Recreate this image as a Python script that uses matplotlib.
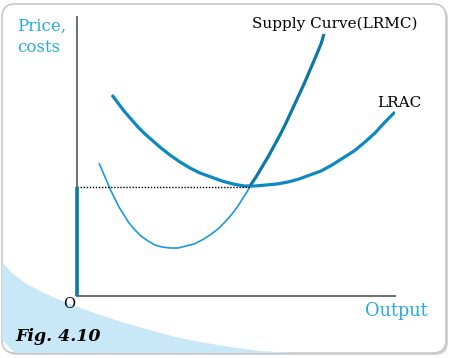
import matplotlib
matplotlib.use("Agg")
import matplotlib.pyplot as plt
from matplotlib.patches import FancyBboxPatch, Polygon

# data (x = output, y = cost; origin at O)
lrac_x = [35, 41, 47, 54, 61, 68, 76, 84, 93, 103, 113, 123, 134, 145, 156, 167, 178,
          189, 200, 211, 222, 233, 244, 255, 266, 277, 288, 298, 308, 318]
lrac_y = [201, 193, 185, 177, 169, 162, 155, 148, 141, 134, 128, 123, 119, 115, 112, 110, 110,
          111, 112, 114, 117, 121, 125, 131, 138, 145, 154, 163, 174, 184]

lrmc_low_x = [22, 25, 28, 31, 34, 38, 42, 47, 52, 58, 64, 71, 78, 85, 93, 101, 109, 117,
              125, 133, 141, 148, 155, 161, 166, 170, 173]
lrmc_low_y = [133, 126, 119, 112, 105, 97, 89, 81, 73, 66, 60, 55, 51, 49, 48, 48, 50, 52,
              56, 61, 67, 74, 82, 90, 98, 104, 110]

lrmc_up_x = [173, 179, 185, 191, 197, 203, 209, 215, 221, 227, 233, 239, 244, 247]
lrmc_up_y = [110, 119, 129, 139, 150, 161, 173, 186, 199, 212, 226, 240, 252, 262]

min_lrac_x = 173
min_lrac_y = 109

x_max, y_max = 318, 279

fig = plt.figure(figsize=(4.52, 3.58), dpi=100)

# background: frame and swoosh, drawn in pixel coordinates
bg = fig.add_axes([0, 0, 1, 1])
bg.set_xlim(0, 452)
bg.set_ylim(358, 0)
bg.axis("off")

shadow = FancyBboxPatch((4, 6), 444, 349, boxstyle="round,pad=0,rounding_size=13",
                        fc="#d4d4d4", ec="none", zorder=0)
bg.add_patch(shadow)
frame = FancyBboxPatch((2, 4), 444, 349, boxstyle="round,pad=0,rounding_size=13",
                       fc="white", ec="#c8c8c8", lw=1.2, zorder=1)
bg.add_patch(frame)

swoosh_x = [2, 12, 25, 40, 55, 75, 100, 125, 150, 175, 200, 230, 260, 295]
swoosh_y = [262, 273, 283, 291, 298, 306, 315, 323, 330, 337, 342, 347, 351, 353]
pts = list(zip(swoosh_x, swoosh_y)) + [(15, 353), (2, 340)]
sw = Polygon(pts, closed=True, fc="#c8e8f8", ec="none", zorder=2)
sw.set_clip_path(frame)
bg.add_patch(sw)

serif = "DejaVu Serif"
blue_txt = "#29abe2"
bg.text(17, 31, "Price,", color=blue_txt, family=serif, fontsize=12,
        va="baseline", ha="left", zorder=5)
bg.text(17, 52, "costs", color=blue_txt, family=serif, fontsize=12,
        va="baseline", ha="left", zorder=5)
bg.text(252, 28, "Supply Curve(LRMC)", color="black", family=serif, fontsize=11,
        va="baseline", ha="left", zorder=5)
bg.text(377, 107, "LRAC", color="black", family=serif, fontsize=11,
        va="baseline", ha="left", zorder=5)
bg.text(69, 308, "O", color="black", family=serif, fontsize=10.5,
        va="baseline", ha="center", zorder=5)
bg.text(365, 316, "Output", color=blue_txt, family=serif, fontsize=12.8,
        va="baseline", ha="left", zorder=5)
bg.text(15, 341, "Fig. 4.10", color="black", family=serif, fontsize=12.5,
        fontweight="bold", fontstyle="italic", va="baseline", ha="left", zorder=5)

# the chart itself
ax = fig.add_axes([77 / 452, (358 - 296) / 358, x_max / 452, y_max / 358])
ax.patch.set_alpha(0)
ax.set_xlim(0, x_max)
ax.set_ylim(0, y_max)
for s in ["top", "right"]:
    ax.spines[s].set_visible(False)
for s in ["left", "bottom"]:
    ax.spines[s].set_color("#6d6e71")
    ax.spines[s].set_linewidth(1.4)
ax.set_xticks([])
ax.set_yticks([])

ax.plot(lrmc_low_x, lrmc_low_y, color="#1b9ad6", lw=1.2, solid_capstyle="butt")
ax.plot(lrac_x, lrac_y, color="#0e88c2", lw=2.3, solid_capstyle="butt")
ax.plot(lrmc_up_x, lrmc_up_y, color="#0b78a6", lw=2.3, solid_capstyle="butt")
ax.plot([0, min_lrac_x], [min_lrac_y, min_lrac_y], color="black", lw=1.0,
        ls=(0, (1, 1.2)))
ax.plot([0, 0], [0, min_lrac_y], color="#0b78a6", lw=2.6, clip_on=False,
        solid_capstyle="butt", zorder=4)

fig.savefig("out.png", dpi=100)
